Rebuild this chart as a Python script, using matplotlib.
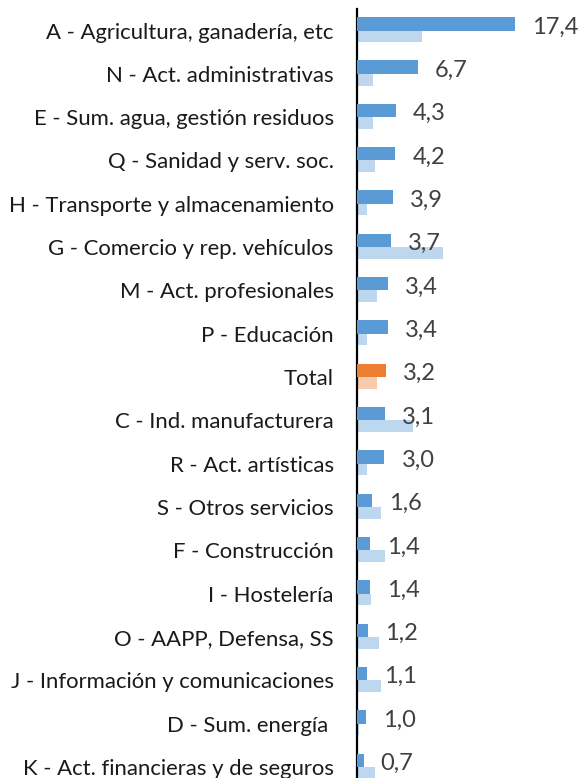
import matplotlib
matplotlib.use("Agg")
import matplotlib.pyplot as plt

categories = [
    "A - Agricultura, ganadería, etc",
    "N - Act. administrativas",
    "E - Sum. agua, gestión residuos",
    "Q - Sanidad y serv. soc.",
    "H - Transporte y almacenamiento",
    "G - Comercio y rep. vehículos",
    "M - Act. profesionales",
    "P - Educación",
    "Total",
    "C - Ind. manufacturera",
    "R - Act. artísticas",
    "S - Otros servicios",
    "F - Construcción",
    "I - Hostelería",
    "O - AAPP, Defensa, SS",
    "J - Información y comunicaciones",
    "D - Sum. energía ",
    "K - Act. financieras y de seguros",
]
main_vals = [17.4, 6.7, 4.3, 4.2, 3.9, 3.7, 3.4, 3.4, 3.2, 3.1, 3.0, 1.6, 1.4, 1.4, 1.2, 1.1, 1.0, 0.7]
second_vals = [7.1, 1.7, 1.7, 2.0, 1.1, 9.5, 2.2, 1.1, 2.2, 6.2, 1.1, 2.6, 3.1, 1.5, 2.4, 2.6, 0.2, 2.0]
value_labels = ["17,4", "6,7", "4,3", "4,2", "3,9", "3,7", "3,4", "3,4", "3,2",
                "3,1", "3,0", "1,6", "1,4", "1,4", "1,2", "1,1", "1,0", "0,7"]

plt.rcParams["font.family"] = ["Lato", "DejaVu Sans"]

W, H = 582, 778
fig = plt.figure(figsize=(W / 100, H / 100), dpi=100)
# axes spans from the category axis to the right edge; bottom runs past the image
ax_left, ax_top, ax_bottom = 357.3, 8.85, 788.6
ax = fig.add_axes([ax_left / W, 1 - ax_bottom / H, (W - ax_left) / W, (ax_bottom - ax_top) / H])

n = len(categories)
ys = list(range(n))
dark = ["#ED7D31" if c == "Total" else "#5B9BD5" for c in categories]
light = ["#F8CBAD" if c == "Total" else "#BDD7EE" for c in categories]

ax.barh([y - 0.155 for y in ys], main_vals, height=0.31, color=dark, zorder=3)
ax.barh([y + 0.135 for y in ys], second_vals, height=0.27, color=light, zorder=2)

px_per_unit = 9.05
ax.set_xlim(0, (W - ax_left) / px_per_unit)
ax.set_ylim(n - 0.5, -0.5)

for y, v, lab in zip(ys, main_vals, value_labels):
    ax.annotate(lab, (v, y - 0.08), xytext=(17, 0), textcoords="offset pixels",
                ha="left", va="center", fontsize=17, color="#404040", zorder=4)

ax.set_yticks(ys)
ax.set_yticklabels(categories, fontsize=15.9, color="#1a1a1a")
ax.tick_params(axis="y", length=0, pad=17)
ax.set_xticks([])
for s in ["top", "right", "bottom"]:
    ax.spines[s].set_visible(False)
ax.spines["left"].set_linewidth(1.6)
ax.spines["left"].set_color("black")

fig.savefig("out.png", dpi=100)
